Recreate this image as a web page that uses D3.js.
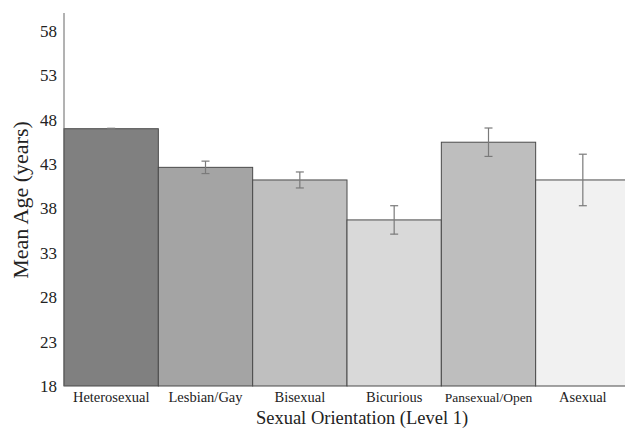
<!DOCTYPE html>
<html>
<head>
<meta charset="utf-8">
<script src="https://cdn.jsdelivr.net/npm/d3@7"></script>
<style>
  body { margin: 0; background: #fff; }
  text { font-family: "Liberation Serif", "Times New Roman", serif; fill: #222; }
</style>
</head>
<body>
<div id="chart"></div>
<script>
// data
const categories = ["Heterosexual", "Lesbian/Gay", "Bisexual", "Bicurious", "Pansexual/Open", "Asexual"];
const meanAge = [46.97, 42.62, 41.2, 36.7, 45.45, 41.2];
const errorHalf = [0.05, 0.7, 0.9, 1.6, 1.6, 2.9];
const barColors = ["#808080", "#a4a4a4", "#bfbfbf", "#d9d9d9", "#bebebe", "#f1f1f1"];
const yTicks = [18, 23, 28, 33, 38, 43, 48, 53, 58];

const width = 625;
const height = 429;
const margin = { top: 13, right: -5, bottom: 43, left: 64 };

const svg = d3.select("#chart")
  .append("svg")
  .attr("width", width)
  .attr("height", height);

const x = d3.scaleBand()
  .domain(categories)
  .range([margin.left, width - margin.right])
  .padding(0);

const y = d3.scaleLinear()
  .domain([18, 60])
  .range([height - margin.bottom, margin.top]);

// bars
svg.append("g")
  .selectAll("rect")
  .data(categories)
  .join("rect")
  .attr("x", d => x(d))
  .attr("y", (d, i) => y(meanAge[i]))
  .attr("width", x.bandwidth())
  .attr("height", (d, i) => y(18) - y(meanAge[i]))
  .attr("fill", (d, i) => barColors[i])
  .attr("stroke", "#4a4a4a")
  .attr("stroke-width", 1);

// error bars
const err = svg.append("g")
  .attr("stroke", "#7a7a7a")
  .attr("stroke-width", 1.2);

categories.forEach((c, i) => {
  const cx = x(c) + x.bandwidth() / 2;
  const lo = y(meanAge[i] - errorHalf[i]);
  const hi = y(meanAge[i] + errorHalf[i]);
  err.append("line").attr("x1", cx).attr("x2", cx).attr("y1", lo).attr("y2", hi);
  err.append("line").attr("x1", cx - 4).attr("x2", cx + 4).attr("y1", lo).attr("y2", lo);
  err.append("line").attr("x1", cx - 4).attr("x2", cx + 4).attr("y1", hi).attr("y2", hi);
});

// y axis
const yAxis = svg.append("g")
  .attr("transform", "translate(" + margin.left + ",0)")
  .call(d3.axisLeft(y).tickValues(yTicks).tickSize(0).tickPadding(7));
yAxis.select(".domain").attr("stroke", "#666").attr("d", "M0," + y(60) + "V" + y(18));
yAxis.selectAll("text").style("font-size", "17px").attr("fill", "#222");

// x labels
const xAxis = svg.append("g")
  .attr("transform", "translate(0," + y(18) + ")")
  .call(d3.axisBottom(x).tickSize(0).tickPadding(6));
xAxis.select(".domain").remove();
xAxis.selectAll("text").style("font-size", "14.5px").attr("fill", "#222")
  .each(function (d) {
    if (d === "Pansexual/Open") d3.select(this).style("font-size", "13.5px");
  });

// axis titles
svg.append("text")
  .attr("x", 362)
  .attr("y", 424)
  .attr("text-anchor", "middle")
  .style("font-size", "18.5px")
  .text("Sexual Orientation (Level 1)");

svg.append("text")
  .attr("transform", "translate(28," + 200 + ") rotate(-90)")
  .attr("text-anchor", "middle")
  .style("font-size", "22px")
  .text("Mean Age (years)");
</script>
</body>
</html>
